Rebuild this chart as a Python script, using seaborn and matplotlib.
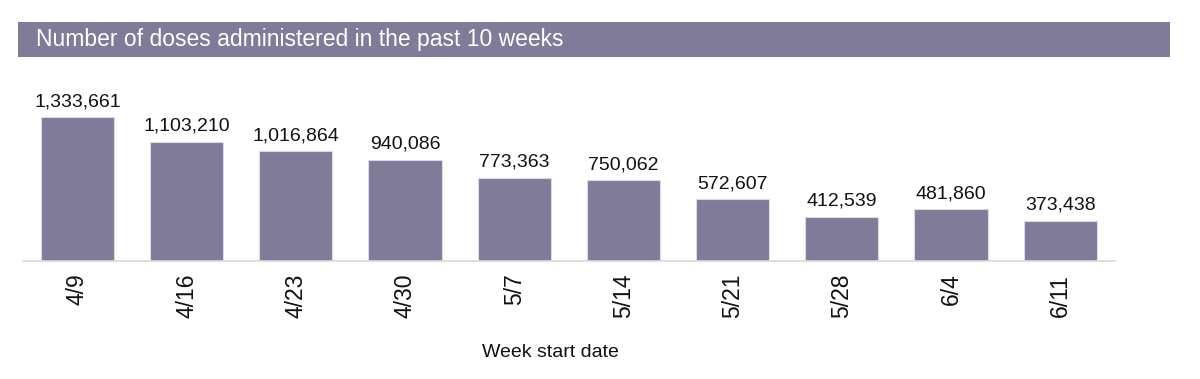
import matplotlib
matplotlib.use("Agg")
import matplotlib.pyplot as plt
import seaborn as sns
import pandas as pd
from matplotlib.patches import Rectangle

# chart data
weeks = ["4/9", "4/16", "4/23", "4/30", "5/7", "5/14", "5/21", "5/28", "6/4", "6/11"]
doses = [1333661, 1103210, 1016864, 940086, 773363, 750062, 572607, 412539, 481860, 373438]
title = "Number of doses administered in the past 10 weeks"
xlabel = "Week start date"

df = pd.DataFrame({"week": weeks, "doses": doses})

sns.set_style("white")
plt.rcParams["font.family"] = ["Liberation Sans", "DejaVu Sans"]

bar_color = "#7f7b98"

fig = plt.figure(figsize=(12, 3.79), dpi=100)
ax = fig.add_axes([0.019, 0.311, 0.91, 0.478])

sns.barplot(data=df, x="week", y="doses", color=bar_color, width=0.67,
            saturation=1, edgecolor="#dcdae6", linewidth=0.8, ax=ax)

ax.set_xlim(-0.5, len(weeks) - 0.5)
ax.set_ylim(0, 1676000)
ax.bar_label(ax.containers[0], labels=[f"{v:,}" for v in doses],
             padding=5, fontsize=14, color="#111111")

# axes styling
for s in ["top", "left", "right"]:
    ax.spines[s].set_visible(False)
ax.spines["bottom"].set_color("#d9d9d9")
ax.spines["bottom"].set_linewidth(1.2)
ax.set_yticks([])
ax.set_ylabel("")
ax.set_xlabel("")
ax.tick_params(axis="x", which="major", length=0, pad=9, labelsize=16.5,
               labelrotation=90, labelcolor="#111111")
ax.set_xticks([i + 0.5 for i in range(-1, len(weeks))], minor=True)
ax.tick_params(axis="x", which="minor", length=6, color="#d9d9d9", width=1.2)

fig.text(0.459, 0.071, xlabel, fontsize=14, color="#111111", ha="center", va="center")

# title banner
fig.patches.append(Rectangle((0.015, 0.8496), 0.96, 0.0923, transform=fig.transFigure,
                             facecolor=bar_color, edgecolor="none", zorder=0))
fig.text(0.03, 0.8945, title, color="white", fontsize=16.5, va="center", ha="left",
         family=["Liberation Sans Narrow", "Liberation Sans", "DejaVu Sans"])

fig.savefig("out.png", dpi=100)
